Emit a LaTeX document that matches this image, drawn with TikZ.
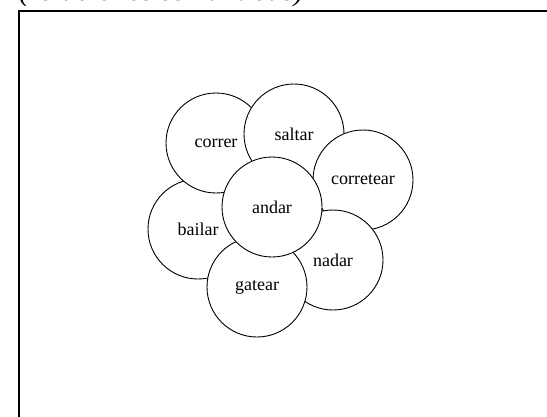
\documentclass[tikz,border=0pt]{standalone}
\usepackage{fontspec}
\setmainfont{Liberation Serif}
\begin{document}
\begin{tikzpicture}[x=1pt,y=-1pt,
  word/.style={circle, draw=black, fill=white, line width=0.9pt,
    minimum size=100pt, inner sep=0pt,
    font=\fontsize{18}{20}\selectfont},
  frame/.style={draw=black, line width=2pt}]
\useasboundingbox (0,0) rectangle (547,416);
% caption above the frame, mostly outside the page
\node[anchor=base west, inner sep=0pt, font=\fontsize{30}{34}\selectfont\itshape]
  (caption) at (19,0.4) {(relaciones semánticas)};
% frame, open towards the right and the bottom of the page
\draw[frame] (19,11) rectangle (560,430);
% word circles, back to front
\node[word] (bailar)    at (198,229) {bailar};
\node[word] (correr)    at (216,143) {correr};
\node[word] (saltar)    at (294,134) {saltar};
\node[word] (corretear) at (363,180) {corretear};
\node[word] (nadar)     at (333,260) {nadar};
\node[word] (gatear)    at (257,287) {gatear};
\node[word] (andar)     at (272,207) {andar};
\end{tikzpicture}
\end{document}
